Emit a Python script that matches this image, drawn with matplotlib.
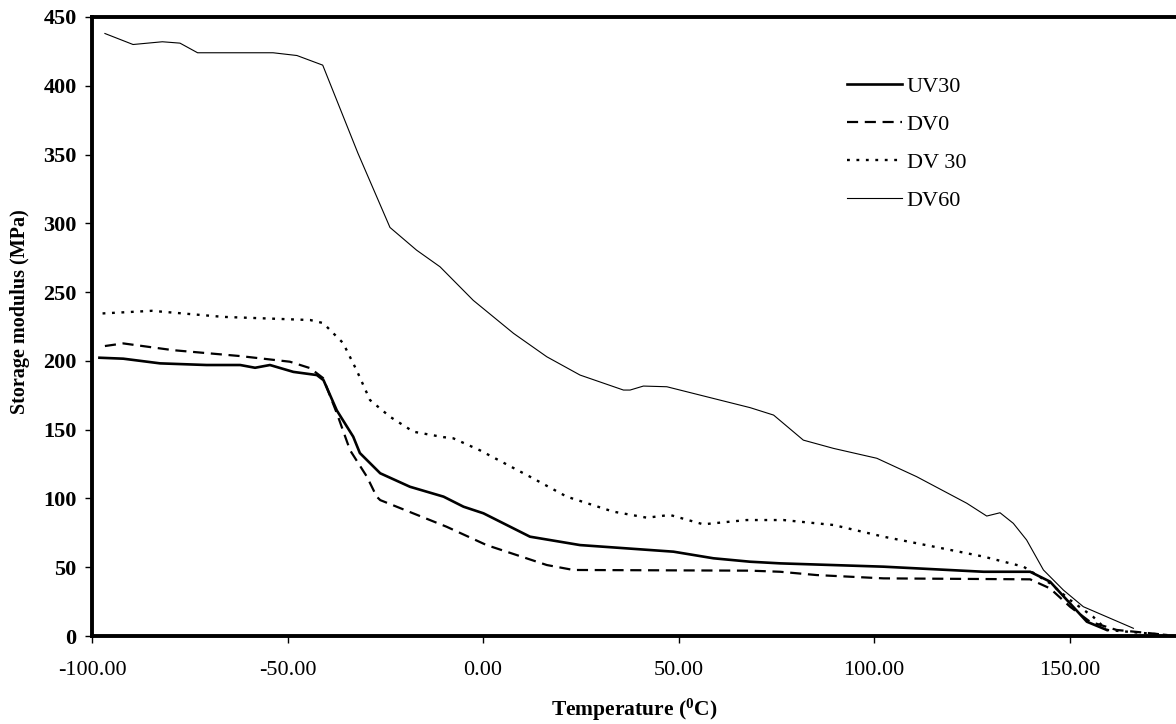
import matplotlib
matplotlib.use("Agg")
import matplotlib.pyplot as plt

# ---- data ----
uv30_T = [-98.1, -92.0, -82.6, -70.7, -62.1, -58.3, -54.5, -48.5, -42.5, -40.8, -37.4, -33.2, -31.5,
          -26.3, -18.7, -10.1, -5.0, 0.1, 12.0, 24.8, 48.7, 58.9, 68.3, 76.0, 102.4, 128.0, 139.9,
          145.0, 150.1, 154.4, 159.5]
uv30_E = [202.3, 201.6, 198.2, 197.0, 197.0, 195.0, 197.0, 192.0, 189.7, 186.0, 164.0, 144.9, 133.0,
          118.3, 108.5, 101.3, 94.0, 89.2, 72.2, 66.1, 61.3, 56.5, 54.0, 52.8, 50.4, 46.7, 46.7,
          39.5, 23.7, 10.4, 4.4]

dv0_T = [-96.7, -92.0, -79.3, -62.1, -49.4, -44.2, -40.9, -37.4, -34.0, -29.7, -27.2, -26.3,
         -9.3, 0.9, 16.3, 23.1, 68.3, 76.0, 85.3, 102.4, 139.9, 145.0, 150.1, 155.2, 162.0,
         170.6, 175.0]
dv0_E = [210.8, 212.7, 207.8, 203.5, 199.4, 194.7, 187.5, 162.0, 135.0, 115.8, 101.3, 98.8,
         79.4, 66.1, 51.6, 48.0, 47.5, 46.7, 44.3, 41.9, 41.2, 34.6, 21.3, 10.4, 4.4,
         2.0, 0.7]

dv30_T = [-97.3, -84.7, -66.5, -44.2, -40.9, -35.8, -32.3, -28.9, -23.8, -17.8, -10.2, -7.6,
          -0.8, 12.0, 21.4, 33.3, 41.9, 47.8, 56.3, 67.4, 76.8, 89.6, 102.4, 115.2, 128.0,
          138.2, 145.0, 150.1, 156.0, 159.5, 174.9]
dv30_E = [234.5, 236.4, 232.0, 229.7, 227.5, 213.0, 193.0, 171.5, 159.4, 148.5, 144.6, 143.7,
          135.0, 115.8, 101.3, 90.4, 86.0, 88.0, 81.2, 84.3, 84.3, 80.7, 72.2, 65.0, 57.7,
          50.4, 38.3, 26.2, 14.0, 4.4, 0.7]

dv60_T = [-96.7, -89.5, -82.0, -77.5, -73.0, -53.7, -47.6, -41.0, -32.0, -23.8, -17.0, -11.0,
          -2.5, 7.8, 16.3, 24.8, 35.9, 37.6, 41.0, 47.0, 58.9, 68.3, 74.3, 81.9, 89.6, 100.7,
          110.9, 123.7, 128.8, 132.2, 135.6, 139.0, 143.3, 148.4, 153.5, 166.3]
dv60_E = [438.0, 430.0, 432.0, 431.0, 424.0, 424.0, 422.0, 415.0, 351.0, 297.0, 280.5, 268.4,
          244.0, 220.0, 203.0, 189.7, 178.8, 178.8, 181.7, 181.2, 172.7, 166.0, 160.6, 142.4,
          136.4, 129.2, 115.8, 96.5, 87.2, 89.6, 81.9, 69.8, 48.0, 33.4, 21.3, 5.6]

labels = ["UV30", "DV0", "DV 30", "DV60"]
x_ticks = [-100, -50, 0, 50, 100, 150]
y_ticks = [0, 50, 100, 150, 200, 250, 300, 350, 400, 450]

plt.rcParams["font.family"] = ["Liberation Serif", "DejaVu Serif"]
plt.rcParams["mathtext.fontset"] = "custom"
plt.rcParams["mathtext.rm"] = "Liberation Serif"
plt.rcParams["mathtext.bf"] = "Liberation Serif:bold"

fig = plt.figure(figsize=(11.76, 7.24), dpi=100)
ax = fig.add_axes([92 / 1176, 88 / 724, 1 - 92 / 1176, (636 - 17) / 724])

ax.plot(uv30_T, uv30_E, color="black", lw=1.9, ls="-", label=labels[0])
ax.plot(dv0_T, dv0_E, color="black", lw=1.6, ls=(0, (5, 3)), label=labels[1])
ax.plot(dv30_T, dv30_E, color="black", lw=1.7, ls=(0, (1.2, 2.8)), label=labels[2])
ax.plot(dv60_T, dv60_E, color="black", lw=0.8, ls="-", label=labels[3])

ax.set_xlim(-100, 177.2)
ax.set_ylim(0, 450)
ax.set_xticks(x_ticks)
ax.set_xticklabels([f"{v:.2f}" for v in x_ticks], fontsize=16)
ax.set_yticks(y_ticks)
ax.set_yticklabels([str(v) for v in y_ticks], fontsize=16, fontweight="bold")
ax.tick_params(axis="both", direction="out", length=5, width=1, colors="black")
ax.tick_params(axis="x", pad=13)
ax.tick_params(axis="y", pad=6)

for side in ["left", "bottom", "top"]:
    ax.spines[side].set_linewidth(2.8)
ax.spines["right"].set_visible(False)

ax.set_xlabel(r"Temperature ($\mathbf{^{0}}$C)", fontsize=15.5, fontweight="bold")
ax.xaxis.set_label_coords((634 - 92) / 1084, -(710 - 636) / 619)
ax.xaxis.label.set_va("center")
ax.set_ylabel("Storage modulus (MPa)", fontsize=14.5, fontweight="bold")
ax.yaxis.set_label_coords(-(92 - 20) / 1084, (636 - 312) / 619)
ax.yaxis.label.set_va("center")

leg = ax.legend(loc="upper left", bbox_to_anchor=(831 / 1176, (724 - 61) / 724),
                bbox_transform=fig.transFigure, frameon=False, fontsize=16,
                handlelength=2.5, handletextpad=0.2, labelspacing=0.78,
                borderpad=0.2)

fig.savefig("out.png", dpi=100)
